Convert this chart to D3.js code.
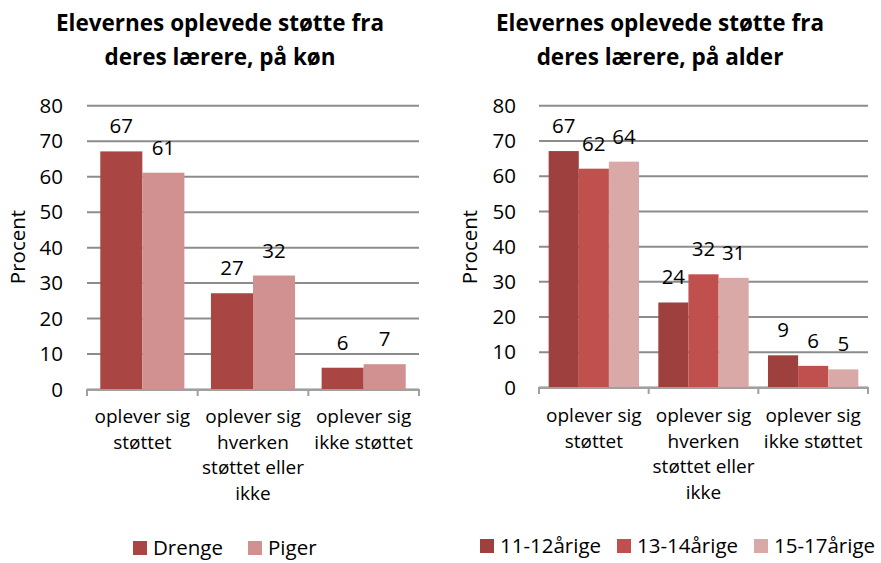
<!DOCTYPE html>
<html>
<head>
<meta charset="utf-8">
<script src="https://cdn.jsdelivr.net/npm/d3@7"></script>
<style>
  body { margin: 0; background: #fff; }
  svg text { font-family: "Open Sans", sans-serif; fill: #000; }
</style>
</head>
<body>
<div id="chart"></div>
<script>

// Data
var categories = ['oplever sig\nstøttet', 'oplever sig\nhverken\nstøttet eller\nikke', 'oplever sig\nikke støttet'];
var yTicks = [0, 10, 20, 30, 40, 50, 60, 70, 80];

var genderSeries = ['Drenge', 'Piger'];
var drenge = [67, 27, 6];
var piger = [61, 32, 7];

var ageSeries = ['11-12årige', '13-14årige', '15-17årige'];
var age1112 = [67, 24, 9];
var age1314 = [62, 32, 6];
var age1517 = [64, 31, 5];

var svg = d3.select('#chart')
  .append('svg')
  .attr('width', 881)
  .attr('height', 563);

function drawChart(opt) {
  var g = svg.append('g');

  var x0 = d3.scaleBand()
    .domain(categories)
    .range([opt.left, opt.right])
    .padding(0);

  var bw = x0.bandwidth();

  var x1 = d3.scaleBand()
    .domain(opt.series)
    .range([bw * opt.gap, bw * (1 - opt.gap)])
    .padding(0);

  var y = d3.scaleLinear()
    .domain([0, 80])
    .range([opt.bottom, opt.top]);

  var color = d3.scaleOrdinal()
    .domain(opt.series)
    .range(opt.colors);

  // Title
  g.append('text')
    .attr('x', opt.titleX)
    .attr('y', 31)
    .attr('text-anchor', 'middle')
    .style('font-size', '22.5px')
    .style('font-weight', 'bold')
    .selectAll('tspan')
    .data(opt.title)
    .enter()
    .append('tspan')
    .attr('x', opt.titleX)
    .attr('dy', function(d, i) { return i === 0 ? 0 : 34; })
    .text(function(d) { return d; });

  // Gridlines + y labels
  var yAxis = g.append('g')
    .attr('transform', 'translate(' + opt.left + ',0)')
    .call(d3.axisLeft(y)
      .tickValues(yTicks)
      .tickSize(-(opt.right - opt.left))
      .tickPadding(opt.labelPad));

  yAxis.select('.domain').remove();
  yAxis.selectAll('line')
    .attr('stroke', '#8c8c8c')
    .attr('stroke-width', 2);
  yAxis.selectAll('text')
    .style('font-size', '20.5px')
    .attr('dy', '0.35em');

  // Y title
  g.append('text')
    .attr('transform', 'translate(' + opt.yTitleX + ',' + 247 + ') rotate(-90)')
    .attr('text-anchor', 'middle')
    .attr('dy', '0.35em')
    .style('font-size', '20.5px')
    .text('Procent');

  // Bars
  var groups = g.append('g')
    .selectAll('g')
    .data(categories)
    .enter()
    .append('g')
    .attr('transform', function(d) { return 'translate(' + x0(d) + ',0)'; });

  var cells = groups.selectAll('g')
    .data(function(d, i) {
      return opt.series.map(function(s, j) {
        return { key: s, value: opt.values[j][i] };
      });
    })
    .enter()
    .append('g');

  cells.append('rect')
    .attr('x', function(d) { return x1(d.key); })
    .attr('y', function(d) { return y(d.value); })
    .attr('width', x1.bandwidth())
    .attr('height', function(d) { return y(0) - y(d.value); })
    .attr('fill', function(d) { return color(d.key); });

  cells.append('text')
    .attr('x', function(d) { return x1(d.key) + x1.bandwidth() / 2; })
    .attr('y', function(d) { return y(d.value) - 18; })
    .attr('text-anchor', 'middle')
    .style('font-size', '20.5px')
    .text(function(d) { return d.value; });

  // Bottom axis with ticks at category boundaries
  var axis = g.append('g');
  axis.append('line')
    .attr('x1', opt.left)
    .attr('x2', opt.right)
    .attr('y1', y(0) + 1)
    .attr('y2', y(0) + 1)
    .attr('stroke', '#a0a0a0')
    .attr('stroke-width', 2);

  var bounds = categories.map(function(c) { return x0(c); }).concat([opt.right]);
  axis.selectAll('.tick')
    .data(bounds)
    .enter()
    .append('line')
    .attr('x1', function(d) { return d; })
    .attr('x2', function(d) { return d; })
    .attr('y1', y(0))
    .attr('y2', y(0) + 7)
    .attr('stroke', '#a0a0a0')
    .attr('stroke-width', 2);

  // Category labels
  g.append('g')
    .selectAll('text')
    .data(categories)
    .enter()
    .append('text')
    .attr('text-anchor', 'middle')
    .style('font-size', '19px')
    .each(function(d) {
      var t = d3.select(this);
      var cx = x0(d) + bw / 2;
      d.split('\n').forEach(function(line, i) {
        t.append('tspan')
          .attr('x', cx)
          .attr('y', opt.catY + i * 25.5)
          .text(line);
      });
    });

  // Legend
  var legend = g.append('g')
    .selectAll('g')
    .data(opt.series)
    .enter()
    .append('g')
    .attr('transform', function(d, i) {
      return 'translate(' + opt.legendX[i] + ',' + opt.legendY + ')';
    });

  legend.append('rect')
    .attr('x', 0)
    .attr('y', -7)
    .attr('width', 14)
    .attr('height', 14)
    .attr('fill', color);

  legend.append('text')
    .attr('x', 20)
    .attr('dy', '0.35em')
    .style('font-size', '20.5px')
    .text(function(d) { return d; });
}

drawChart({
  title: ['Elevernes oplevede støtte fra', 'deres lærere, på køn'],
  titleX: 220,
  series: genderSeries,
  values: [drenge, piger],
  colors: ['#a94644', '#d29191'],
  left: 87, right: 419, top: 105.3, bottom: 389,
  gap: 0.12,
  labelPad: 24,
  yTitleX: 18,
  catY: 423,
  legendX: [133, 248],
  legendY: 548
});

drawChart({
  title: ['Elevernes oplevede støtte fra', 'deres lærere, på alder'],
  titleX: 660,
  series: ageSeries,
  values: [age1112, age1314, age1517],
  colors: ['#9d403e', '#c0504d', '#d9a9a8'],
  left: 539, right: 868, top: 105.3, bottom: 387,
  gap: 0.088,
  labelPad: 23,
  yTitleX: 470,
  catY: 422,
  legendX: [480, 617, 754],
  legendY: 546
});

</script>
</body>
</html>
